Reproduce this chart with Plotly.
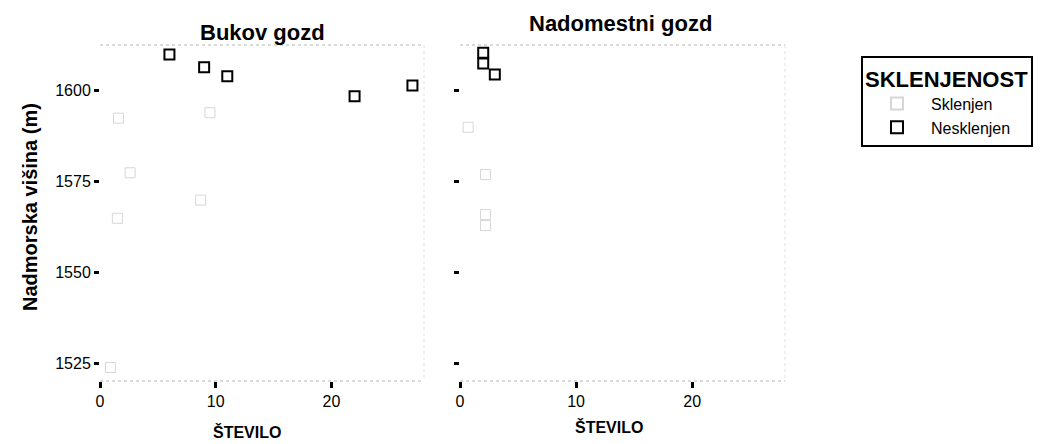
import plotly.graph_objects as go

# ---- data ----
panels = ["Bukov gozd", "Nadomestni gozd"]
x_ticks = [0, 10, 20]
y_ticks = [1525, 1550, 1575, 1600]

bukov_nesk_x = [6, 9, 11, 22, 27]
bukov_nesk_y = [1610, 1606.5, 1604, 1598.5, 1601.5]
bukov_skl_x = [2.6, 8.7, 1.5, 0.9, 9.5, 1.6]
bukov_skl_y = [1577.5, 1570, 1565, 1524, 1594, 1592.5]

nad_nesk_x = [2, 2, 3]
nad_nesk_y = [1610.5, 1607.5, 1604.5]
nad_skl_x = [0.7, 2.2, 2.2, 2.2]
nad_skl_y = [1590, 1577, 1566, 1563]

W, H = 1057, 444
OFF = 8  # page body margin

def px(x):
    return (x - OFF) / W

def py(y):
    return 1 - (y - OFF) / H

fig = go.Figure()

skl_marker = dict(symbol="square-open", size=10, color="#d6d6d6", line=dict(width=1, color="#d6d6d6"))
nesk_marker = dict(symbol="square-open", size=10, color="black", line=dict(width=2, color="black"))

fig.add_trace(go.Scatter(x=bukov_skl_x, y=bukov_skl_y, mode="markers", name="Sklenjen",
                         marker=skl_marker, xaxis="x", yaxis="y", legendgroup="s"))
fig.add_trace(go.Scatter(x=bukov_nesk_x, y=bukov_nesk_y, mode="markers", name="Nesklenjen",
                         marker=nesk_marker, xaxis="x", yaxis="y", legendgroup="n"))
fig.add_trace(go.Scatter(x=nad_skl_x, y=nad_skl_y, mode="markers", name="Sklenjen",
                         marker=skl_marker, xaxis="x2", yaxis="y2", legendgroup="s", showlegend=False))
fig.add_trace(go.Scatter(x=nad_nesk_x, y=nad_nesk_y, mode="markers", name="Nesklenjen",
                         marker=nesk_marker, xaxis="x2", yaxis="y2", legendgroup="n", showlegend=False))

font = "Liberation Sans, Arial, sans-serif"
ydom = [py(381), py(45)]
yrange = [1520.3, 1612.6]

common_x = dict(range=[0, 28], tickvals=x_ticks, ticks="outside", ticklen=6, tickwidth=3,
                tickcolor="black", showgrid=False, zeroline=False, showline=False, automargin=False,
                tickfont=dict(family=font, size=16, color="black"))
fig.update_layout(
    xaxis=dict(domain=[px(100), px(424)], anchor="y", **common_x),
    xaxis2=dict(domain=[px(460), px(785)], anchor="y2", **common_x),
    yaxis=dict(domain=ydom, range=yrange, tickvals=y_ticks, ticks="outside", ticklen=5, tickwidth=3,
               tickcolor="black", showgrid=False, zeroline=False, showline=False, automargin=False,
               tickfont=dict(family=font, size=16, color="black"), anchor="x"),
    yaxis2=dict(domain=ydom, range=yrange, tickvals=y_ticks, ticks="outside", ticklen=5, tickwidth=3,
                tickcolor="black", showticklabels=False, showgrid=False, zeroline=False, showline=False,
                automargin=False, anchor="x2", matches="y"),
)

# faint dotted panel borders
shapes = []
for (x0, x1) in [(100, 424), (460, 785)]:
    for yy in [45, 381]:
        shapes.append(dict(type="line", xref="paper", yref="paper", x0=px(x0), x1=px(x1),
                           y0=py(yy), y1=py(yy), line=dict(color="#b5b5b5", width=1, dash="dot")))
    shapes.append(dict(type="line", xref="paper", yref="paper", x0=px(x1), x1=px(x1),
                       y0=py(45), y1=py(381), line=dict(color="#e0e0e0", width=1, dash="dot")))

def ann(text, x, y, size, angle=0):
    return dict(text=text, x=px(x), y=py(y), xref="paper", yref="paper",
                xanchor="center", yanchor="middle", showarrow=False, textangle=angle,
                font=dict(family=font, size=size, color="black"))

annotations = [
    ann("<b>Bukov gozd</b>", 262, 33, 22),
    ann("<b>Nadomestni gozd</b>", 620, 24, 22),
    ann("<b>ŠTEVILO</b>", 247, 432, 16),
    ann("<b>ŠTEVILO</b>", 609, 427, 16),
    ann("<b>Nadmorska višina (m)</b>", 30, 207, 20, -90),
]

fig.update_layout(
    width=W, height=H,
    margin=dict(l=0, r=0, t=0, b=0, autoexpand=False),
    paper_bgcolor="white", plot_bgcolor="white",
    shapes=shapes, annotations=annotations,
    showlegend=True,
    legend=dict(x=px(861), y=py(56), xanchor="left", yanchor="top",
                bordercolor="black", borderwidth=2, bgcolor="white",
                title=dict(text="<b>SKLENJENOST</b>", font=dict(family=font, size=22, color="black")),
                font=dict(family=font, size=16, color="black"),
                itemsizing="constant", itemwidth=58, tracegroupgap=0),
)

fig.write_html("out.html")
